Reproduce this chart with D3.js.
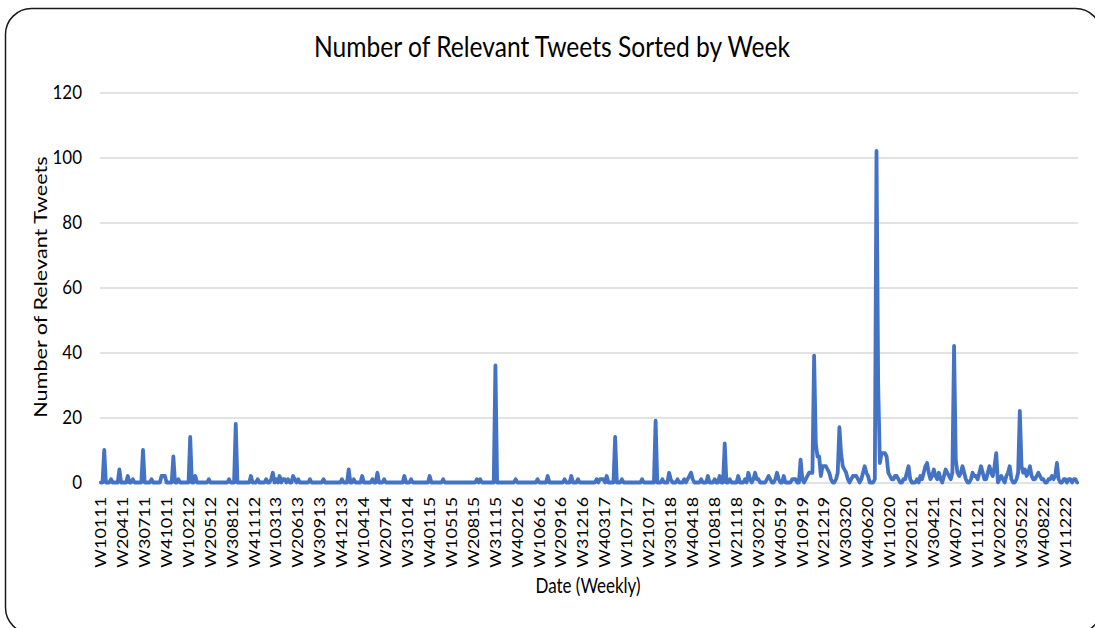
<!DOCTYPE html>
<html>
<head>
<meta charset="utf-8">
<script src="https://cdn.jsdelivr.net/npm/d3@7"></script>
<style>
  body { margin: 0; background: #fff; }
  text { font-family: Lato, "Open Sans", sans-serif; fill: #000; }
</style>
</head>
<body>
<div id="content"></div>
<script>
const width = 1095;
const height = 628;
const line_color = "#4472C4";
const grid_color = "#d9d9d9";

const title_text = "Number of Relevant Tweets Sorted by Week";
const x_title = "Date (Weekly)";
const y_title = "Number of Relevant Tweets";

// weeks are named W{week of month}{month}{year}, 4 weeks per month
const years = ["11", "12", "13", "14", "15", "16", "17", "18", "19", "20", "21", "22", "23"];
const months = ["01", "02", "03", "04", "05", "06", "07", "08", "09", "10", "11", "12"];
const week_nums = [1, 2, 3, 4];

const tick_labels = [
  "W10111", "W20411", "W30711", "W41011", "W10212", "W20512", "W30812", "W41112",
  "W10313", "W20613", "W30913", "W41213", "W10414", "W20714", "W31014", "W40115",
  "W10515", "W20815", "W31115", "W40216", "W10616", "W20916", "W31216", "W40317",
  "W10717", "W21017", "W30118", "W40418", "W10818", "W21118", "W30219", "W40519",
  "W10919", "W21219", "W30320", "W40620", "W11020", "W20121", "W30421", "W40721",
  "W11121", "W20222", "W30522", "W40822", "W11222"
];
const y_ticks = [0, 20, 40, 60, 80, 100, 120];

// tweets per week, one row per year (48 weeks)
const tweets_2011 = [0,0,10,0,0,0,1,0,0,0, 0,4,0,0,0,0,2,0,0,1, 0,0,0,0,0,10,0,0,0,0, 1,0,0,0,0,0,2,2,2,0, 0,0,0,8,0,0,1,0];
const tweets_2012 = [0,0,0,0,0,14,0,0,2,0, 0,0,0,0,0,0,1,0,0,0, 0,0,0,0,0,0,0,0,1,0, 0,0,18,0,0,0,0,0,0,0, 0,2,0,0,0,1,0,0];
const tweets_2013 = [0,0,1,0,0,1,3,0,1,0, 2,0,1,1,0,1,0,0,2,1, 0,1,0,0,0,0,0,0,1,0, 0,0,0,0,0,0,1,0,0,0, 0,0,0,0,0,0,0,1];
const tweets_2014 = [0,0,0,4,0,0,1,0,0,0, 0,2,0,0,0,0,0,1,0,0, 3,0,0,0,1,0,0,0,0,0, 0,0,0,0,0,0,2,0,0,0, 1,0,0,0,0,0,0,0];
const tweets_2015 = [0,0,0,2,0,0,0,0,0,0, 0,1,0,0,0,0,0,0,0,0, 0,0,0,0,0,0,0,0,0,0, 0,1,0,1,0,0,0,0,0,0, 0,0,36,0,0,0,0,0];
const tweets_2016 = [0,0,0,0,0,0,1,0,0,0, 0,0,0,0,0,0,0,0,0,1, 0,0,0,0,0,2,0,0,0,0, 0,0,0,0,0,1,0,0,0,2, 0,0,0,1,0,0,0,0];
const tweets_2017 = [0,0,0,0,0,0,1,0,1,1, 1,0,2,0,0,0,0,14,0,0, 0,1,0,0,0,0,0,0,0,0, 0,0,0,1,0,0,0,0,0,0, 0,19,0,0,0,1,0,0];
const tweets_2018 = [0,3,1,0,0,0,1,0,0,0, 1,0,1,2,3,1,0,0,0,0, 1,0,0,0,2,0,0,0,1,0, 0,2,0,0,12,0,0,1,0,0, 0,0,2,0,0,0,1,0];
const tweets_2019 = [3,1,0,1,3,1,1,0,0,0, 0,1,2,1,0,0,1,3,1,0, 0,2,0,0,0,0,1,1,1,0, 0,7,1,0,1,2,3,3,3,39, 12,8,8,2,5,5,5,4];
const tweets_2020 = [3,1,0,0,1,3,17,9,5,4, 3,1,0,1,2,2,2,1,0,1, 3,5,3,2,0,0,0,1,102,30, 6,9,9,9,8,3,2,1,1,2, 2,1,0,0,1,1,3,5];
const tweets_2021 = [1,0,0,0,1,0,2,1,3,5, 6,3,1,2,4,2,1,3,1,0, 2,4,3,2,1,3,42,7,3,2, 3,5,3,1,0,0,1,3,2,2, 1,3,5,3,1,1,3,5];
const tweets_2022 = [3,2,5,9,0,1,2,1,0,2, 3,5,1,0,0,1,3,22,5,3, 4,2,3,5,2,1,1,2,3,2, 1,1,0,0,1,1,2,1,2,6, 1,0,0,1,1,0,1,1];
const tweets_2023 = [0,1,1,0];

const tweets = [].concat(tweets_2011, tweets_2012, tweets_2013, tweets_2014, tweets_2015,
  tweets_2016, tweets_2017, tweets_2018, tweets_2019, tweets_2020, tweets_2021,
  tweets_2022, tweets_2023);

var weeks = [];
years.forEach(function (yy) {
  months.forEach(function (mm) {
    week_nums.forEach(function (w) {
      weeks.push("W" + w + mm + yy);
    });
  });
});
weeks = weeks.slice(0, tweets.length);

var data = weeks.map(function (w, i) { return { week: w, count: tweets[i] }; });

const plot_left = 100, plot_right = 1078, plot_top = 92.5, plot_bottom = 482.5;

var svg = d3
  .select("#content")
  .append("svg")
  .attr("width", width)
  .attr("height", height);

svg.append("rect")
  .attr("width", width)
  .attr("height", height)
  .attr("fill", "#fff");

// rounded frame around the chart
svg.append("rect")
  .attr("x", 5.5)
  .attr("y", 8.5)
  .attr("width", 1096)
  .attr("height", 625)
  .attr("rx", 26)
  .attr("fill", "none")
  .attr("stroke", "#1a1a1a")
  .attr("stroke-width", 1.5);

var x = d3.scaleBand()
  .domain(weeks)
  .range([plot_left, plot_right])
  .padding(0);

var y = d3.scaleLinear()
  .domain([0, 120])
  .range([plot_bottom, plot_top]);

var y_axis = svg.append("g")
  .attr("transform", "translate(" + plot_left + ",0)")
  .call(d3.axisLeft(y)
    .tickValues(y_ticks)
    .tickSize(-(plot_right - plot_left))
    .tickPadding(18));

y_axis.select(".domain").remove();
y_axis.selectAll("line")
  .attr("stroke", grid_color)
  .attr("stroke-width", 1.5);
y_axis.selectAll("text")
  .style("font-size", "17px")
  .attr("transform", "scale(1,1.12)");

var x_axis = svg.append("g")
  .attr("transform", "translate(0," + plot_bottom + ")")
  .call(d3.axisBottom(x)
    .tickValues(tick_labels)
    .tickSize(0));

x_axis.select(".domain").remove();
// labels are a bit stretched along their length in the original
x_axis.selectAll("text")
  .style("font-size", "15px")
  .attr("text-anchor", "end")
  .attr("transform", "rotate(-90) scale(1.2,1)")
  .attr("x", -12)
  .attr("y", 0)
  .attr("dy", "0.35em");

var line = d3.line()
  .x(function (d) { return x(d.week) + x.bandwidth() / 2; })
  .y(function (d) { return y(d.count); });

svg.append("path")
  .datum(data)
  .attr("d", line)
  .attr("fill", "none")
  .attr("stroke", line_color)
  .attr("stroke-width", 3.8)
  .attr("stroke-linejoin", "round")
  .attr("stroke-linecap", "round");

svg.append("text")
  .attr("transform", "translate(552,57) scale(1,1.17)")
  .attr("text-anchor", "middle")
  .style("font-size", "24.6px")
  .text(title_text);

svg.append("text")
  .attr("transform", "translate(588,593) scale(1,1.2)")
  .attr("text-anchor", "middle")
  .style("font-size", "17px")
  .text(x_title);

svg.append("text")
  .attr("transform", "translate(47,287) rotate(-90) scale(1.2,1)")
  .attr("text-anchor", "middle")
  .style("font-size", "18px")
  .text(y_title);
</script>
</body>
</html>
